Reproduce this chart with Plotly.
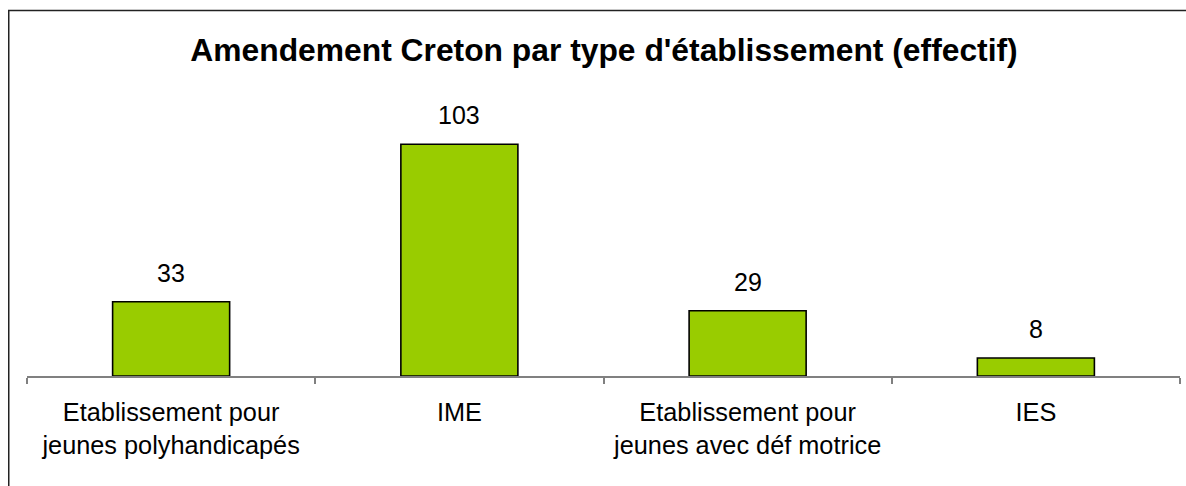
import plotly.graph_objects as go

categories = ["Etablissement pour<br>jeunes polyhandicapés", "IME",
              "Etablissement pour<br>jeunes avec déf motrice", "IES"]
values = [33, 103, 29, 8]
title_text = "Amendement Creton par type d'établissement (effectif)"

W, H = 1186, 486
ML, MR, MT, MB = 27, 6, 106, 110
PW, PH = W - ML - MR, H - MT - MB
FONT = "Arial, Liberation Sans, sans-serif"

fig = go.Figure()
fig.add_trace(go.Bar(
    x=categories, y=values,
    marker=dict(color="#99CC00", line=dict(color="#000000", width=1.6)),
    hoverinfo="x+y",
))

for c, v in zip(categories, values):
    fig.add_annotation(x=c, y=v, text=str(v), showarrow=False,
                       yanchor="bottom", yshift=13,
                       font=dict(family=FONT, size=25, color="#000000"))

# outer frame (left and top edges visible, the rest runs off the picture)
fig.add_shape(type="rect", xref="paper", yref="paper",
              x0=(8.75 - ML) / PW, x1=1.2,
              y0=-1.0, y1=(H - MB - 10.5) / PH,
              line=dict(color="#222222", width=1.5), layer="above")

fig.update_layout(
    width=W, height=H,
    margin=dict(l=ML, r=MR, t=MT, b=MB),
    paper_bgcolor="white", plot_bgcolor="white",
    showlegend=False,
    bargap=0.594,
    title=dict(text="<b>" + title_text + "</b>", x=604 / W, xanchor="center",
               xref="container", yref="container", y=1 - 50 / H, yanchor="middle",
               font=dict(family=FONT, size=31.8, color="#000000")),
    font=dict(family=FONT, size=25, color="#000000"),
    xaxis=dict(showline=True, linecolor="#808080", linewidth=1.5,
               ticks="outside", tickson="boundaries", ticklen=6,
               tickcolor="#808080", tickwidth=1.5, ticklabelstandoff=13,
               tickfont=dict(family=FONT, size=25.3, color="#000000"),
               showgrid=False, zeroline=False),
    yaxis=dict(range=[0, 120], visible=False, showgrid=False, zeroline=False),
)

fig.write_html("out.html",
               config={"displayModeBar": False},
               post_script="document.body.style.margin='0';"
                           "document.body.style.overflow='hidden';")
